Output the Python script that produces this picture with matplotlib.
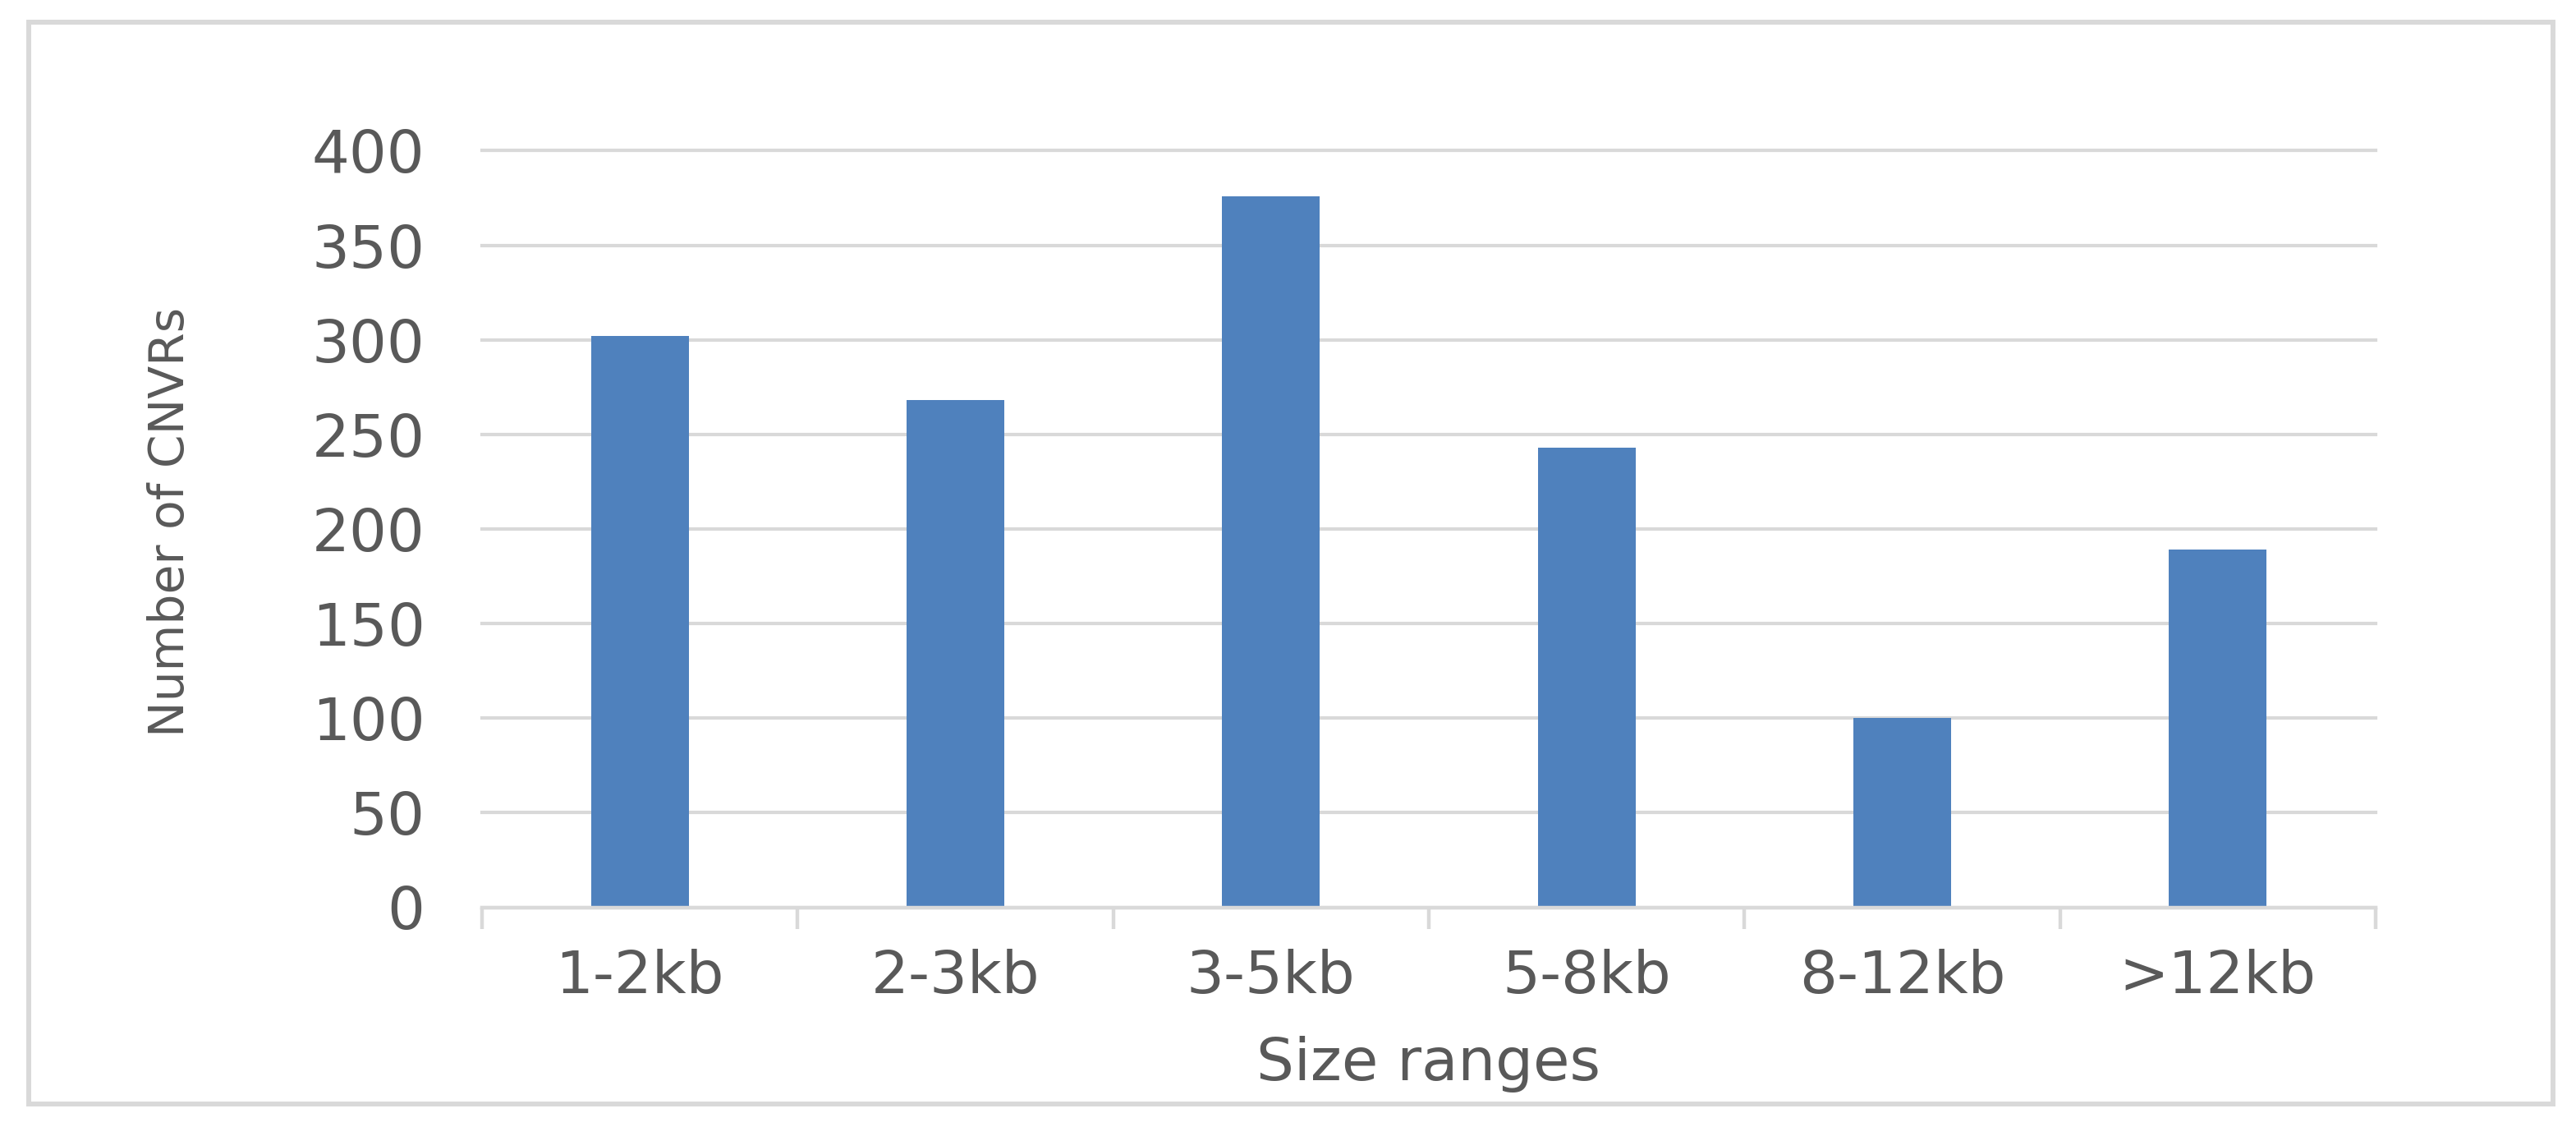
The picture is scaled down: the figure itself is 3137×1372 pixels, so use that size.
import matplotlib
matplotlib.use("Agg")
import matplotlib.pyplot as plt
from matplotlib.patches import Rectangle
from matplotlib.ticker import FixedLocator

# ---- data ----
categories = ["1-2kb", "2-3kb", "3-5kb", "5-8kb", "8-12kb", ">12kb"]
counts = [302, 268, 376, 243, 100, 189]
y_ticks = [0, 50, 100, 150, 200, 250, 300, 350, 400]
x_label = "Size ranges"
y_label = "Number of CNVRs"

BAR = "#4f81bd"
GRID = "#d9d9d9"
TXT = "#595959"

W, H = 3137, 1372
fig = plt.figure(figsize=(W / 100, H / 100), dpi=100)
plt.rcParams["font.family"] = ["DejaVu Sans"]

# outer chart border
fig.patches.append(Rectangle((35 / W, 1 - 1344 / H), (3109 - 35) / W, (1344 - 27) / H,
                             transform=fig.transFigure, fill=False,
                             edgecolor=GRID, linewidth=4.3, zorder=0))

left, right = 587 / W, 2893 / W
bottom, top = 1 - 1104.5 / H, 1 - 183.5 / H
ax = fig.add_axes([left, bottom, right - left, top - bottom])

x = list(range(len(categories)))
ax.bar(x, counts, width=0.31, color=BAR, zorder=3)

ax.set_xlim(-0.5, len(categories) - 0.5)
ax.set_ylim(0, 400)
ax.set_yticks(y_ticks)
ax.yaxis.grid(True, color=GRID, linewidth=3, zorder=0)
ax.set_axisbelow(True)
for gl in ax.get_ygridlines():
    gl.set_clip_on(False)

for s in ["left", "top", "right"]:
    ax.spines[s].set_visible(False)
ax.spines["bottom"].set_color(GRID)
ax.spines["bottom"].set_linewidth(3.2)
ax.spines["bottom"].set_zorder(4)

FS = 52
ax.set_xticks(x)
ax.set_xticklabels(categories)
ax.xaxis.set_minor_locator(FixedLocator([i - 0.5 for i in range(len(categories) + 1)]))
ax.tick_params(axis="x", which="major", length=0, pad=36, labelsize=FS, labelcolor=TXT)
ax.tick_params(axis="x", which="minor", length=19, width=3.2, color=GRID, direction="out")
ax.tick_params(axis="y", which="both", length=0, pad=50, labelsize=FS, labelcolor=TXT)

ax.set_xlabel(x_label, fontsize=FS, color=TXT, va="center")
ax.xaxis.set_label_coords(0.5, (1104.5 - 1296) / 921)
ax.set_ylabel(y_label, fontsize=42, color=TXT, va="center", ha="center")
ax.yaxis.set_label_coords((208 - 587) / 2306, (1104.5 - 635) / 921)

fig.savefig("out.png", dpi=100, facecolor="white")
